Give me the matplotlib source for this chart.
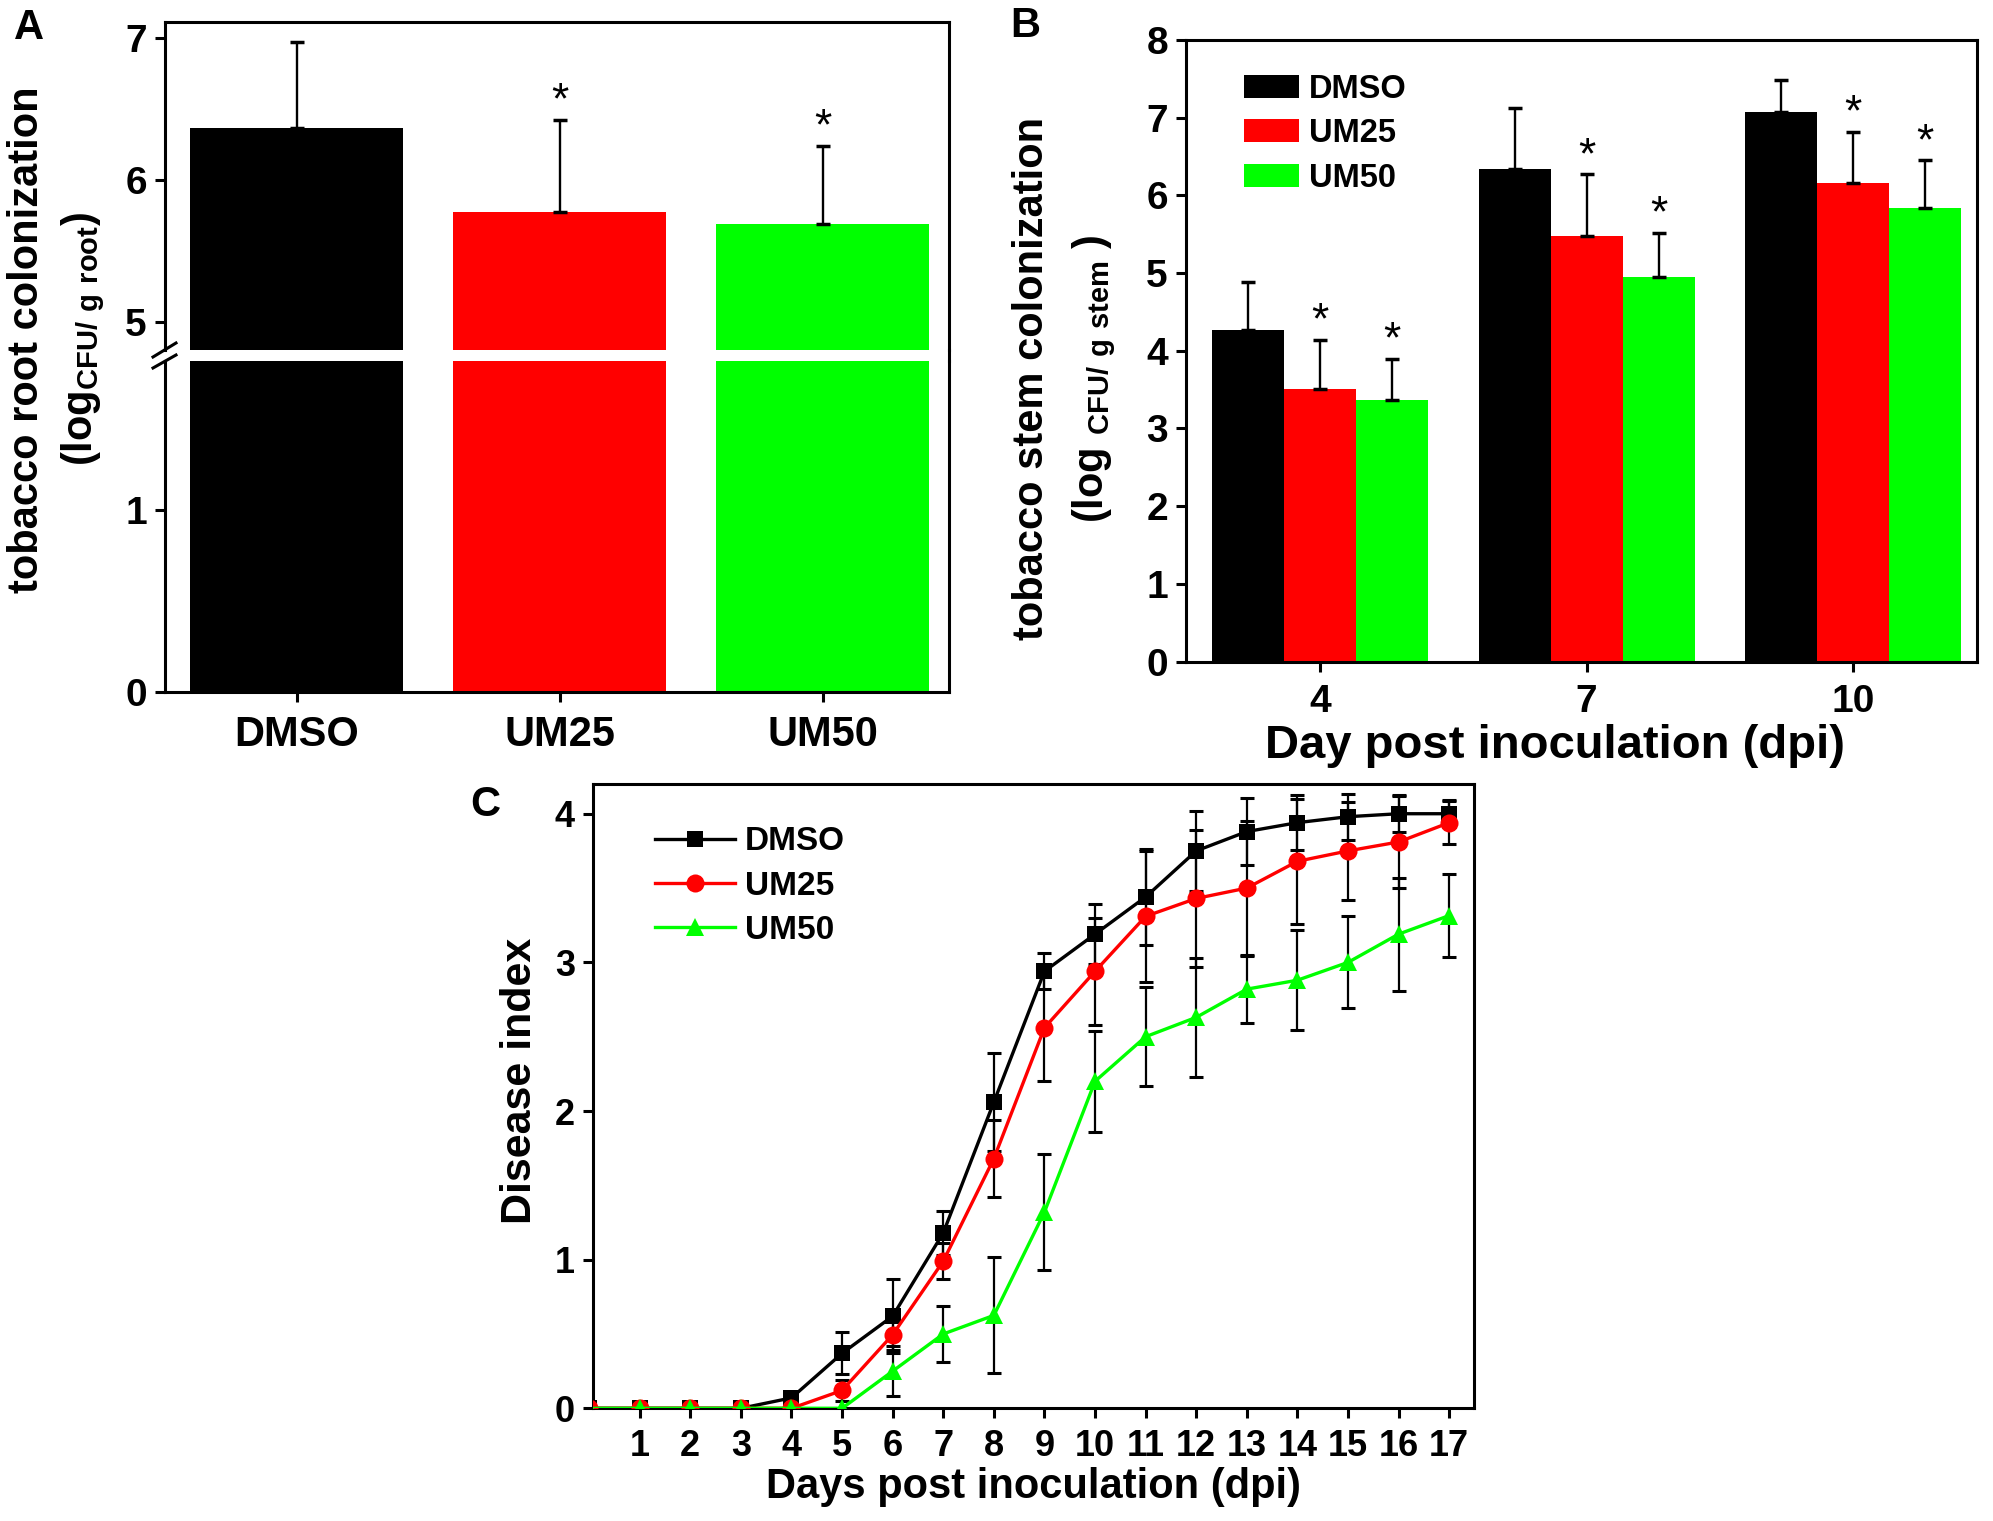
import numpy as np
import matplotlib
matplotlib.use("Agg")
import matplotlib.pyplot as plt
from matplotlib.lines import Line2D

plt.rcParams['font.family'] = ['Liberation Sans', 'DejaVu Sans']
plt.rcParams['font.weight'] = 'bold'
plt.rcParams['mathtext.fontset'] = 'custom'
plt.rcParams['mathtext.rm'] = 'Liberation Sans'
plt.rcParams['mathtext.bf'] = 'Liberation Sans:bold'

# ---------------- data ----------------
treatments = ["DMSO", "UM25", "UM50"]
colors = ["#000000", "#FF0000", "#00FF00"]

# Panel A: root colonization
root_mean = [6.36, 5.77, 5.69]
root_err = [0.61, 0.65, 0.55]
root_sig = [False, True, True]

# Panel B: stem colonization
stem_days = ["4", "7", "10"]
stem_dmso = [4.27, 6.34, 7.07]
stem_um25 = [3.51, 5.48, 6.16]
stem_um50 = [3.37, 4.95, 5.84]
stem_dmso_err = [0.61, 0.78, 0.41]
stem_um25_err = [0.63, 0.79, 0.66]
stem_um50_err = [0.53, 0.57, 0.61]

# Panel C: disease index
days = list(range(0, 18))
di_dmso = [0, 0, 0, 0, 0.07, 0.37, 0.62, 1.18, 2.06, 2.94, 3.19, 3.44, 3.75, 3.88, 3.94, 3.98, 4.0, 4.0]
di_dmso_err = [0, 0, 0, 0, 0, 0.14, 0.25, 0.15, 0.33, 0.12, 0.20, 0.32, 0.27, 0.225, 0.185, 0.155, 0.125, 0.09]
di_um25 = [0, 0, 0, 0, 0, 0.12, 0.495, 0.99, 1.68, 2.56, 2.94, 3.31, 3.43, 3.50, 3.68, 3.75, 3.81, 3.94]
di_um25_err = [0, 0, 0, 0, 0, 0.07, 0.10, 0.12, 0.26, 0.36, 0.36, 0.44, 0.46, 0.45, 0.42, 0.33, 0.31, 0.145]
di_um50 = [0, 0, 0, 0, 0, 0, 0.25, 0.50, 0.625, 1.32, 2.20, 2.50, 2.63, 2.82, 2.88, 3.00, 3.19, 3.315]
di_um50_err = [0, 0, 0, 0, 0, 0, 0.17, 0.19, 0.39, 0.39, 0.34, 0.335, 0.40, 0.225, 0.335, 0.31, 0.38, 0.28]

# ---------------- figure ----------------
W, H = 1993, 1521
fig = plt.figure(figsize=(W / 100, H / 100), dpi=100)


def ax_px(l, t, r, b):
    return [l / W, 1 - b / H, (r - l) / W, (b - t) / H]


SPW = 2.2
TICK_FS = 28


def style(ax):
    for s in ax.spines.values():
        s.set_linewidth(SPW)
    ax.tick_params(direction='out', length=7, width=SPW, labelsize=TICK_FS, pad=6)
    for lab in ax.get_xticklabels() + ax.get_yticklabels():
        lab.set_fontweight('bold')


# ---------------- Panel A (broken axis) ----------------
axA_up = fig.add_axes(ax_px(165, 22, 949, 350))
axA_lo = fig.add_axes(ax_px(165, 361, 949, 692.5))
xA = np.arange(len(treatments))
for ax in (axA_up, axA_lo):
    ax.bar(xA, root_mean, width=0.81, color=colors, zorder=2)
    ax.set_xlim(-0.5, 2.48)
    style(ax)
axA_up.errorbar(xA, root_mean, yerr=[np.zeros(3), root_err], fmt='none',
                ecolor='black', elinewidth=1.7, capsize=5, capthick=2.5, zorder=3)
axA_up.set_ylim(4.80, 7.11)
axA_up.set_yticks([5, 6, 7])
axA_up.spines['bottom'].set_visible(False)
axA_up.tick_params(axis='x', bottom=False, labelbottom=False)
axA_lo.set_ylim(0, 1.816)
axA_lo.set_yticks([0, 1])
axA_lo.spines['top'].set_visible(False)
axA_lo.set_xticks(xA)
axA_lo.set_xticklabels(treatments, fontsize=30, fontweight='bold')
axA_lo.tick_params(axis='x', pad=9)
for i, s in enumerate(root_sig):
    if s:
        axA_up.annotate('*', (xA[i], root_mean[i] + root_err[i]), xytext=(0, -2),
                        textcoords='offset points', ha='center', va='bottom',
                        fontsize=32, fontweight='normal')
# break marks
for (x0, y0, x1, y1) in [(153, 357, 176, 343), (153, 368, 176, 355)]:
    fig.add_artist(Line2D([x0 / W, x1 / W], [1 - y0 / H, 1 - y1 / H], color='black', lw=2.2))
# right spine continues through the gap
fig.add_artist(Line2D([949 / W, 949 / W], [1 - 350 / H, 1 - 361 / H], color='black', lw=SPW))

fig.text(27 / W, 1 - 340 / H, 'tobacco root colonization', rotation=90, ha='center', va='center',
         fontsize=30, fontweight='bold')
fig.text(83 / W, 1 - 339 / H, r'(log$_{\mathbf{CFU/\ g\ root}}$)', rotation=90, ha='center', va='center',
         fontsize=30, fontweight='bold')
fig.text(14 / W, 1 - 8 / H, 'A', ha='left', va='top', fontsize=30, fontweight='bold')

# ---------------- Panel B ----------------
axB = fig.add_axes(ax_px(1186, 40, 1977, 661.5))
xB = np.arange(len(stem_days))
bw = 0.27
series_B = [(stem_dmso, stem_dmso_err, False), (stem_um25, stem_um25_err, True), (stem_um50, stem_um50_err, True)]
for k, (vals, errs, sig) in enumerate(series_B):
    pos = xB + (k - 1) * bw
    axB.bar(pos, vals, width=bw, color=colors[k], label=treatments[k], zorder=2)
    axB.errorbar(pos, vals, yerr=[np.zeros(3), errs], fmt='none', ecolor='black',
                 elinewidth=1.7, capsize=5, capthick=2.5, zorder=3)
    if sig:
        for p, v, e in zip(pos, vals, errs):
            axB.annotate('*', (p, v + e), xytext=(0, -2), textcoords='offset points',
                         ha='center', va='bottom', fontsize=32, fontweight='normal')
axB.set_xlim(-0.503, 2.465)
axB.set_ylim(0, 8)
axB.set_yticks(range(0, 9))
axB.set_xticks(xB)
axB.set_xticklabels(stem_days)
style(axB)
axB.tick_params(axis='x', pad=9)
axB.set_xlabel('Day post inoculation (dpi)', fontsize=34, fontweight='bold')
axB.xaxis.set_label_coords(0.466, -0.10)
axB.legend(loc='upper left', bbox_to_anchor=(0.073, 0.946), frameon=False,
           prop={'size': 23.5, 'weight': 'bold'}, handlelength=1.7, handleheight=0.7,
           handletextpad=0.3, labelspacing=0.42, borderpad=0, borderaxespad=0)
fig.text(1032 / W, 1 - 378 / H, 'tobacco stem colonization', rotation=90, ha='center', va='center',
         fontsize=30, fontweight='bold')
fig.text(1094 / W, 1 - 379 / H, r'(log $_{\mathbf{CFU/\ g\ stem}}$ )', rotation=90, ha='center',
         va='center', fontsize=30, fontweight='bold')
fig.text(1010 / W, 1 - 6 / H, 'B', ha='left', va='top', fontsize=30, fontweight='bold')

# ---------------- Panel C ----------------
axC = fig.add_axes(ax_px(593, 784, 1474, 1408.3))
markers = ['s', 'o', '^']
msizes = [11.5, 13, 13.5]
series_C = [(di_dmso, di_dmso_err), (di_um25, di_um25_err), (di_um50, di_um50_err)]
for k, (vals, errs) in enumerate(series_C):
    v = np.array(vals)
    e = np.array(errs)
    d = np.array(days)
    m = e > 0
    axC.errorbar(d[m], v[m], yerr=e[m], fmt='none', ecolor='black', elinewidth=1.6,
                 capsize=5, capthick=2.2, zorder=2 + k)
    axC.plot(d, v, color=colors[k], lw=2.4, marker=markers[k], ms=msizes[k],
             markeredgewidth=0, label=treatments[k], zorder=2.5 + k)
axC.set_xlim(0.077, 17.49)
axC.set_ylim(0, 4.2)
axC.set_xticks(range(1, 18))
axC.set_yticks(range(0, 5))
style(axC)
axC.tick_params(labelsize=26)
axC.tick_params(axis='x', pad=8)
for lab in axC.get_xticklabels() + axC.get_yticklabels():
    lab.set_fontweight('bold')
axC.set_xlabel('Days post inoculation (dpi)', fontsize=30, fontweight='bold', labelpad=2)
axC.legend(loc='upper left', bbox_to_anchor=(0.07, 0.932), frameon=False,
           prop={'size': 24, 'weight': 'bold'}, handlelength=2.4,
           handletextpad=0.3, labelspacing=0.4, borderpad=0, borderaxespad=0)
fig.text(520 / W, 1 - 1081 / H, 'Disease index', rotation=90, ha='center', va='center',
         fontsize=31, fontweight='bold')
fig.text(470 / W, 1 - 785 / H, 'C', ha='left', va='top', fontsize=30, fontweight='bold')

fig.savefig('out.png', dpi=100)
